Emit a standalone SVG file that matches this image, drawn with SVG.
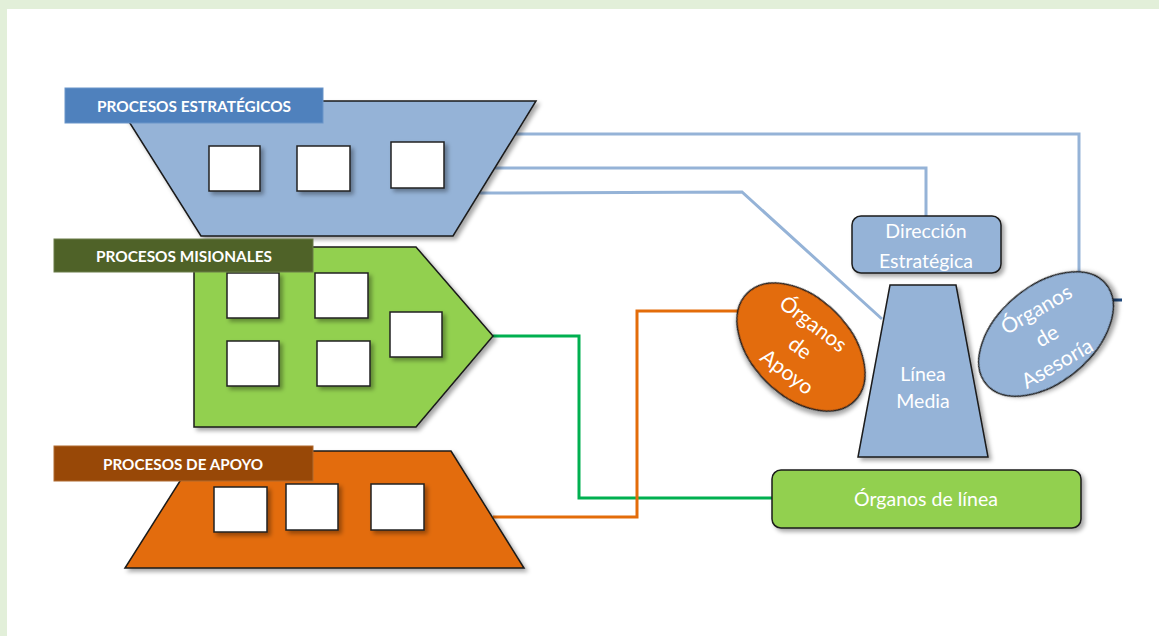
<svg xmlns="http://www.w3.org/2000/svg" width="1159" height="636" viewBox="0 0 1159 636">
  <defs>
    <filter id="sh" x="-10%" y="-10%" width="130%" height="130%">
      <feDropShadow dx="3" dy="3" stdDeviation="2" flood-color="#000" flood-opacity="0.35"/>
    </filter>
    <style>
      .shape { stroke: #1a1a1a; stroke-width: 1.5; filter: url(#sh); }
      .box { fill: #ffffff; stroke: #222; stroke-width: 1.5; filter: url(#sh); }
      .lbl { font-family: Lato, "Liberation Sans", sans-serif; font-weight: bold; font-size: 15.5px; fill: #ffffff; text-anchor: middle; }
      .txt { font-family: Lato, "Open Sans", "Liberation Sans", sans-serif; font-size: 19.5px; fill: #ffffff; text-anchor: middle; }
      .etxt { font-size: 21px; }
      .blue { fill: none; stroke: #95B3D7; stroke-width: 3; }
      .green { fill: none; stroke: #00B050; stroke-width: 3; }
      .orange { fill: none; stroke: #E36C0A; stroke-width: 3; }
    </style>
  </defs>

  <!-- background -->
  <rect x="0" y="0" width="1159" height="636" fill="#E2EFD9"/>
  <rect x="7" y="9" width="1152" height="627" fill="#ffffff"/>

  <g id="connectors">
    <polyline class="blue" points="515,134 1079,134 1079,276"/>
    <polyline class="blue" points="495,168 926,168 926,216"/>
    <polyline class="blue" points="480,193 742,192 882,319"/>
    <polyline class="green" points="493,336 579,336 579,498 772,498"/>
    <polyline class="orange" points="493,517 637,517 637,311 740,311"/>
    <line x1="1112" y1="300" x2="1122" y2="300" stroke="#1F497D" stroke-width="3"/>
  </g>

  <g id="procesos-estrategicos">
    <polygon class="shape" points="116,101 536,101 453,236 201,236" fill="#95B3D7"/>
    <rect class="box" x="209" y="146" width="51" height="45"/>
    <rect class="box" x="297" y="146" width="53" height="45"/>
    <rect class="box" x="391" y="142" width="53" height="46"/>
    <rect x="65" y="88" width="258" height="35" fill="#4F81BD" stroke="#6a95c9" stroke-width="1"/>
    <text class="lbl" x="194" y="112" textLength="194" lengthAdjust="spacingAndGlyphs">PROCESOS ESTRATÉGICOS</text>
  </g>

  <g id="procesos-misionales">
    <polygon class="shape" points="194,247 416,247 493,336 416,427 194,427" fill="#92D050"/>
    <rect class="box" x="227" y="273" width="52" height="45"/>
    <rect class="box" x="315" y="273" width="53" height="45"/>
    <rect class="box" x="390" y="312" width="52" height="45"/>
    <rect class="box" x="227" y="341" width="52" height="45"/>
    <rect class="box" x="317" y="341" width="53" height="45"/>
    <rect x="54" y="239" width="259" height="33" fill="#4F6228" stroke="#6b7d48" stroke-width="1"/>
    <text class="lbl" x="184" y="262" textLength="176" lengthAdjust="spacingAndGlyphs">PROCESOS MISIONALES</text>
  </g>

  <g id="procesos-apoyo">
    <polygon class="shape" points="199,451 451,451 524,568 125,568" fill="#E36C0A"/>
    <rect class="box" x="214" y="487" width="53" height="45"/>
    <rect class="box" x="286" y="484" width="52" height="46"/>
    <rect class="box" x="371" y="484" width="53" height="46"/>
    <rect x="54" y="446" width="259" height="35" fill="#984807" stroke="#b06a30" stroke-width="1"/>
    <text class="lbl" x="183" y="470" textLength="160" lengthAdjust="spacingAndGlyphs">PROCESOS DE APOYO</text>
  </g>

  <g id="direccion-estrategica">
    <rect class="shape" x="852" y="216" width="149" height="57" rx="9" fill="#95B3D7"/>
    <text class="txt" x="926" y="238">Dirección</text>
    <text class="txt" x="926" y="268">Estratégica</text>
  </g>

  <g id="linea-media">
    <polygon class="shape" points="890,285 956,285 988,457 858,457" fill="#95B3D7"/>
    <text class="txt" x="923" y="381">Línea</text>
    <text class="txt" x="923" y="408">Media</text>
  </g>

  <g id="organos-apoyo">
    <ellipse class="shape" cx="801" cy="347" rx="76" ry="49" transform="rotate(45 801 347)" fill="#E36C0A"/>
    <g transform="translate(800 348) rotate(37)">
      <text class="txt etxt" x="-4" y="-20">Órganos</text>
      <text class="txt etxt" x="0" y="7">de</text>
      <text class="txt etxt" x="4" y="34">Apoyo</text>
    </g>
  </g>

  <g id="organos-asesoria">
    <ellipse class="shape" cx="1046" cy="334" rx="78" ry="48" transform="rotate(-40 1046 334)" fill="#95B3D7"/>
    <g transform="translate(1047 336) rotate(-30)">
      <text class="txt etxt" x="4" y="-21">Órganos</text>
      <text class="txt etxt" x="0" y="7">de</text>
      <text class="txt etxt" x="-5" y="36">Asesoría</text>
    </g>
  </g>

  <g id="organos-linea">
    <rect class="shape" x="772" y="470" width="309" height="58" rx="9" fill="#92D050"/>
    <text class="txt" x="926" y="506">Órganos de línea</text>
  </g>
</svg>
